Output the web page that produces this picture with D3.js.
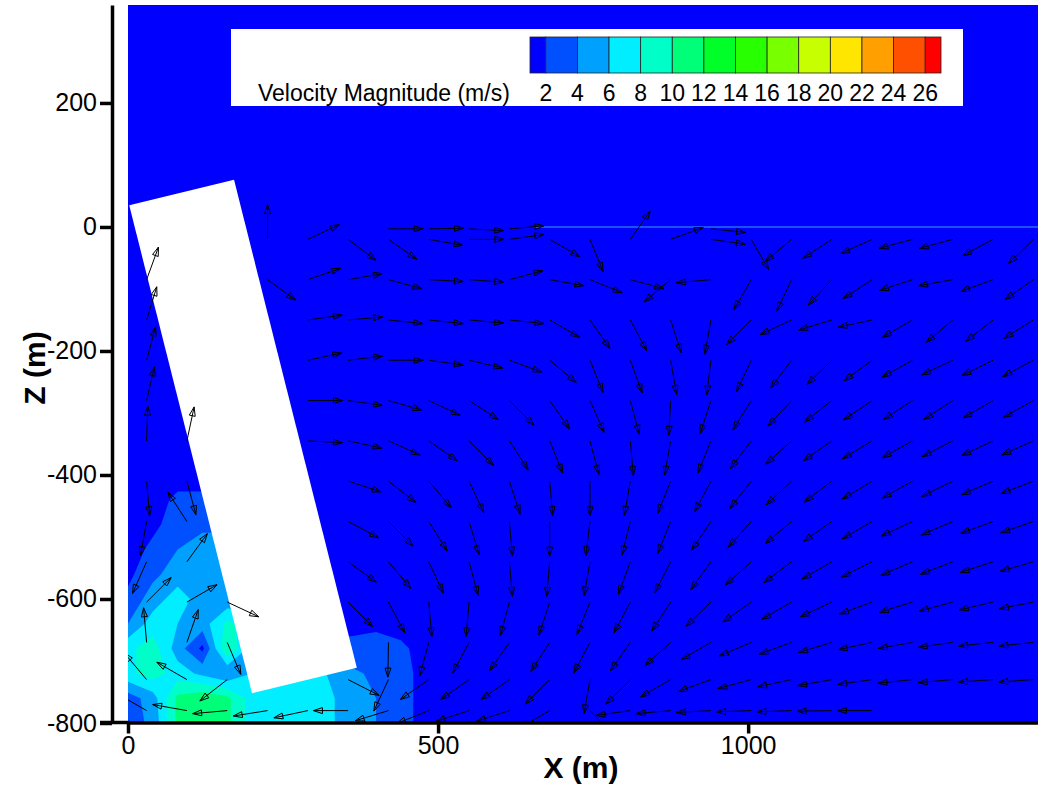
<!DOCTYPE html>
<html>
<head>
<meta charset="utf-8">
<script src="https://cdn.jsdelivr.net/npm/d3@7"></script>
<style>
  body { margin: 0; background: #fff; }
  svg { display: block; }
  text { font-family: "Liberation Sans", Arial, Helvetica, sans-serif; }
</style>
</head>
<body>
<script>
// ticks
let xTicksMajor = [0, 500, 1000];
let xTicksMinor = [100, 200, 300, 400, 600, 700, 800, 900, 1100, 1200, 1300, 1400];
let zTicksMajor = [-800, -600, -400, -200, 0, 200];
let zTicksMinor = [-750, -700, -650, -550, -500, -450, -350, -300, -250, -150, -100, -50, 50, 100, 150, 250, 300, 350];

// legend levels (m/s) and flood colours, first colour is the < 2 band
let legendLevels = [2, 4, 6, 8, 10, 12, 14, 16, 18, 20, 22, 24, 26];
let legendColors = ["#0000ff", "#0050ff", "#00a0ff", "#00eeff", "#00ffc8", "#00ff78", "#00ff28",
                    "#28ff00", "#78ff00", "#c8ff00", "#ffe600", "#ffa000", "#ff5000", "#ff0000"];

// tilted block (x, z in m)
let obstacle = [[2, 35], [171, 76], [369, -711], [200, -752]];

let speedX = [0, 40, 80, 120, 160, 200, 240, 280, 320, 360, 400, 440, 480];
let speedZ = [-400, -440, -480, -520, -560, -600, -640, -680, -720, -760, -800];
let speedGrid = [
  [1,   1,   1,    1,    1,    1,   1,   1,   1,   1,   1,   1,   1],
  [1,   1,   2.5,  2.5,  2.5,  1,   1,   1,   1,   1,   1,   1,   1],
  [1,   1.5, 3,    3.5,  3.5,  1,   1,   1,   1,   1,   1,   1,   1],
  [1,   2.5, 4,    5,    5,    4,   1,   1,   1,   1,   1,   1,   1],
  [1.5, 3.5, 5,    5.5,  5,    4,   1,   1,   1,   1,   1,   1,   1],
  [2.5, 5,   7,    5,    4.5,  4.5, 1,   1,   1,   1,   1,   1,   1],
  [4,   7,   6,    5,    8.5,  7,   1,   1,   1,   1.5, 1.5, 1,   1],
  [7.5, 9,   5,    1.5,  10,   5,   5,   4,   3,   2.5, 3,   2.5, 1],
  [7.5, 9,   7,    5.5,  4,    6,   6,   6,   6,   4.5, 3.5, 3,   1],
  [3,   5,   10.5, 11.5, 10.5, 7,   7,   7,   6.5, 5,   4,   3,   1],
  [3,   4.5, 10.5, 11.5, 10.5, 7,   7,   6.5, 6.5, 5,   4,   3,   1]
];

// velocity vectors: tails on a grid, direction in degrees (0 = +X, 90 = +Z)
let arrowX = [30, 95, 160, 225, 290, 355, 420, 485, 550, 615, 680, 745, 810, 875, 940, 1005, 1070, 1135, 1200, 1265, 1330, 1395, 1460];
let arrowZ = [-3, -20, -85, -150, -215, -280, -345, -410, -475, -540, -605, -670, -730, -780];
let arrowAngle = [
  [null, null, null, null, null, null, 0, 1, -3, 5, null, null, null, null, -6, null, null, null, null, null, null, null, null],
  [null, null, null, 90, 25, -37, -35, -10, 0, 8, -30, -68, 55, 20, -8, -60, -140, -147, -156, -165, -165, -152, -136],
  [70, null, null, -36, 19, 10, -15, -3, -4, 15, -10, -22, -15, -140, -175, -120, -115, -133, -147, -162, -170, -160, -145],
  [73, null, null, null, 8, 5, -6, -6, -5, -6, -30, -55, -62, -72, -100, -135, -155, -163, -168, -150, -140, -142, -148],
  [75, null, null, null, 12, 7, 0, -8, -13, -20, -40, -68, -70, -80, -97, -115, -127, -136, -144, -151, -155, -154, -152],
  [77, null, null, null, 0, -8, -16, -25, -33, -45, -55, -66, -75, -93, -108, -122, -133, -142, -146, -147, -147, -150, -151],
  [88, 78, null, null, -3, -12, -24, -35, -45, -57, -68, -75, -85, -100, -112, -127, -138, -145, -149, -151, -153, -155, -156],
  [-85, -75, null, null, null, -18, -38, -50, -65, -72, -85, -90, -100, -112, -118, -128, -137, -143, -149, -151, -154, -157, -159],
  [-100, 123, null, null, null, -28, -45, -58, -73, -85, -90, -97, -104, -112, -124, -132, -140, -145, -150, -155, -157, -160, -161],
  [-114, 54, null, null, null, -36, -50, -65, -75, -85, -95, -100, -110, -117, -126, -138, -143, -150, -154, -157, -159, -162, -164],
  [45, 30, -25, null, null, -45, -62, -85, -95, -105, -108, -112, -118, -123, -136, -145, -150, -155, -160, -163, -165, -167, -169],
  [95, 71, -67, null, null, null, -91, -105, -118, -125, -123, -118, -125, -138, -150, -157, -160, -163, -168, -170, -172, -174, -174],
  [130, 150, -142, null, -166, -27, -115, -145, -145, -145, -135, -100, -135, -150, -160, -165, -168, -170, -172, -174, -175, -176, -176],
  [150, 170, -175, -171, -168, 180, -163, -158, -162, -162, -150, -47, -172, -175, -177, -178, -178, -179, 180, null, null, null, null]
];
let arrowLength = 56;

let width = 1038, height = 791;

let svg = d3.select("body").append("svg")
  .attr("width", width)
  .attr("height", height);

let x = d3.scaleLinear().domain([0, 1469]).range([128, 1039]);
let z = d3.scaleLinear().domain([-800, 358]).range([723, 5]);

svg.append("clipPath").attr("id", "plotClip")
  .append("rect")
  .attr("x", x(0)).attr("y", z(358))
  .attr("width", x(1469) - x(0)).attr("height", z(-800) - z(358));

let plot = svg.append("g").attr("clip-path", "url(#plotClip)");

// background band (< 2 m/s)
plot.append("rect")
  .attr("x", x(0)).attr("y", z(358))
  .attr("width", x(1469) - x(0)).attr("height", z(-800) - z(358))
  .attr("fill", legendColors[0]);

// flood contours
let nx = speedX.length, nz = speedZ.length;
let gx = d3.scaleLinear().domain([0.5, nx - 0.5]).range([speedX[0], speedX[nx - 1]]);
let gz = d3.scaleLinear().domain([0.5, nz - 0.5]).range([speedZ[0], speedZ[nz - 1]]);
let bands = d3.contours().size([nx, nz]).thresholds(legendLevels)(speedGrid.flat());
let proj = d3.geoTransform({
  point: function(px, py) { this.stream.point(x(gx(px)), z(gz(py))); }
});
let contourPath = d3.geoPath(proj);

plot.selectAll("path.band")
  .data(bands)
  .enter()
  .append("path")
  .attr("class", "band")
  .attr("d", contourPath)
  .attr("fill", function(d) { return legendColors[legendLevels.indexOf(d.value) + 1]; });

// free surface trace
plot.append("line")
  .attr("x1", x(655)).attr("x2", x(1469))
  .attr("y1", z(0)).attr("y2", z(0))
  .attr("stroke", "#2a6bff")
  .attr("stroke-width", 1.5);

// block
plot.append("polygon")
  .attr("points", obstacle.map(function(p) { return x(p[0]) + "," + z(p[1]); }).join(" "))
  .attr("fill", "#fff");

// vectors
let arrows = [];
for (let r = 0; r < arrowZ.length; r++) {
  for (let c = 0; c < arrowX.length; c++) {
    let a = arrowAngle[r][c];
    if (a === null) continue;
    if (d3.polygonContains(obstacle, [arrowX[c], arrowZ[r]])) continue;
    let rad = a * Math.PI / 180;
    arrows.push({
      x0: arrowX[c], z0: arrowZ[r],
      x1: arrowX[c] + arrowLength * Math.cos(rad),
      z1: arrowZ[r] + arrowLength * Math.sin(rad)
    });
  }
}

function arrowPath(d) {
  let tx = x(d.x0), ty = z(d.z0), hx = x(d.x1), hy = z(d.z1);
  let dx = hx - tx, dy = hy - ty;
  let len = Math.sqrt(dx * dx + dy * dy);
  let ux = dx / len, uy = dy / len;
  let bx = hx - ux * 9, by = hy - uy * 9;
  let lx = bx - uy * 3, ly = by + ux * 3;
  let rx = bx + uy * 3, ry = by - ux * 3;
  return "M" + tx + "," + ty + "L" + hx + "," + hy +
         "M" + lx + "," + ly + "L" + hx + "," + hy + "L" + rx + "," + ry + "Z";
}

plot.selectAll("path.vec")
  .data(arrows)
  .enter()
  .append("path")
  .attr("class", "vec")
  .attr("d", arrowPath)
  .attr("fill", "none")
  .attr("stroke", "#000")
  .attr("stroke-width", 1);

// legend
let legend = svg.append("g");
legend.append("rect")
  .attr("x", 231).attr("y", 29)
  .attr("width", 732).attr("height", 77)
  .attr("fill", "#fff");

let legendX = d3.scaleLinear().domain([1, 27]).range([530, 941]);
let legendEdges = [1].concat(legendLevels).concat([27]);

legend.selectAll("rect.box")
  .data(legendColors)
  .enter()
  .append("rect")
  .attr("class", "box")
  .attr("x", function(d, i) { return legendX(legendEdges[i]); })
  .attr("y", 37)
  .attr("width", function(d, i) { return legendX(legendEdges[i + 1]) - legendX(legendEdges[i]); })
  .attr("height", 36)
  .attr("fill", function(d) { return d; })
  .attr("stroke", "#222")
  .attr("stroke-width", 0.8);

legend.selectAll("text.lev")
  .data(legendLevels)
  .enter()
  .append("text")
  .attr("class", "lev")
  .attr("x", function(d) { return legendX(d); })
  .attr("y", 101)
  .attr("text-anchor", "middle")
  .attr("font-size", "23px")
  .text(function(d) { return d; });

legend.append("text")
  .attr("x", 258).attr("y", 101)
  .attr("font-size", "23px")
  .text("Velocity Magnitude (m/s)");

// axes
let plain = function(d) { return String(d); };

let yAxisG = svg.append("g").attr("transform", "translate(112,0)");
yAxisG.call(d3.axisLeft(z).tickValues(zTicksMinor).tickSize(12).tickSizeOuter(0).tickFormat(""));
yAxisG.call(d3.axisLeft(z).tickValues(zTicksMajor).tickSize(12).tickSizeOuter(0).tickPadding(3).tickFormat(plain));
yAxisG.selectAll(".domain").attr("stroke-width", 3.5);
yAxisG.selectAll(".tick line").attr("stroke-width", 1.2);
yAxisG.selectAll(".tick text").attr("font-size", "25px").attr("font-family", "Liberation Sans, Arial, sans-serif");
yAxisG.selectAll(".tick").filter(function(d) { return zTicksMajor.indexOf(d) >= 0; })
  .select("line").attr("stroke-width", 3.5);

let xAxisG = svg.append("g").attr("transform", "translate(0,722.5)");
xAxisG.call(d3.axisBottom(x).tickValues(xTicksMinor).tickSize(11).tickSizeOuter(0).tickFormat(""));
xAxisG.call(d3.axisBottom(x).tickValues(xTicksMajor).tickSize(11).tickSizeOuter(0).tickPadding(3).tickFormat(plain));
xAxisG.selectAll(".domain").attr("stroke-width", 3.5);
xAxisG.selectAll(".tick line").attr("stroke-width", 1.2);
xAxisG.selectAll(".tick text").attr("font-size", "25px").attr("font-family", "Liberation Sans, Arial, sans-serif");
xAxisG.selectAll(".tick").filter(function(d) { return xTicksMajor.indexOf(d) >= 0; })
  .select("line").attr("stroke-width", 3.5);
xAxisG.append("line")
  .attr("x1", 100).attr("x2", 130)
  .attr("stroke", "#000").attr("stroke-width", 3.5);

svg.append("text")
  .attr("x", 581).attr("y", 778)
  .attr("text-anchor", "middle")
  .attr("font-size", "30px")
  .attr("font-weight", "bold")
  .text("X (m)");

svg.append("text")
  .attr("transform", "translate(45,368) rotate(-90)")
  .attr("text-anchor", "middle")
  .attr("font-size", "30px")
  .attr("font-weight", "bold")
  .text("Z (m)");
</script>
</body>
</html>
